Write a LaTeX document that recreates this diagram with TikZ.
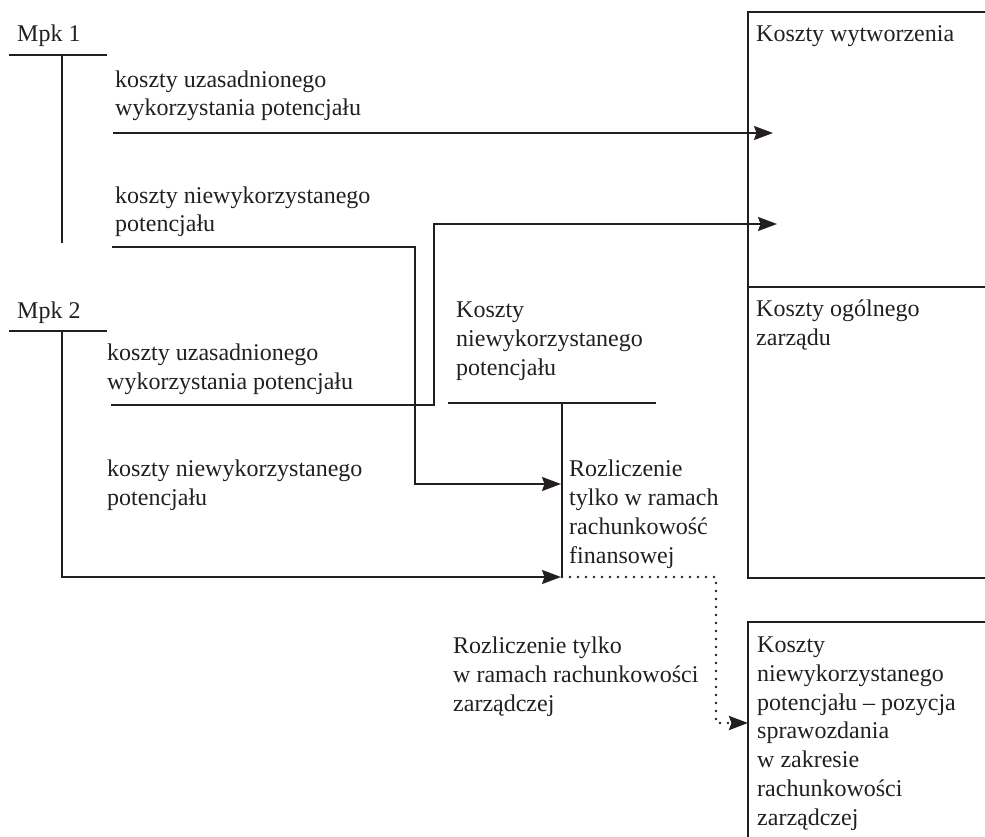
\documentclass[tikz,border=0pt]{standalone}
\usepackage{fontspec}
\setmainfont{Liberation Serif}
\usetikzlibrary{arrows.meta}
\definecolor{ink}{HTML}{231F20}
\begin{document}
\begin{tikzpicture}[x=1pt,y=-1pt,
  txt/.style={anchor=base west, inner sep=0pt, align=left, font=\fontsize{24}{28.7}\selectfont, text=ink},
  tip/.style={-{Stealth[length=19pt,width=14pt,inset=2.5pt]}},
  flow/.style={draw=ink, line width=1.9pt, tip},
  rule/.style={draw=ink, line width=1.4pt},
  dots/.style={draw=ink, line width=2.8pt, dash pattern=on 0pt off 8pt, line cap=round, tip},
  boxline/.style={draw=ink, line width=1.4pt, rectangle, inner sep=0pt, outer sep=0pt, anchor=north west, minimum width=300pt}]
\useasboundingbox (0,0) rectangle (985,837);
\clip (0,0) rectangle (985,837);

% right-hand boxes
\node[boxline, minimum height=275pt] (box1) at (748,12) {};
\node[boxline, minimum height=291pt] (box2) at (748,287) {};
\node[boxline, minimum height=260pt] (box3) at (748,622) {};
% multi-line texts: base anchor = baseline of last line
\node[txt] (box1t) at (756,42) {Koszty wytworzenia};
\node[txt] (box2t) at (756,345) {Koszty ogólnego\\zarządu};
\node[txt] (box3t) at (757,825) {Koszty\\niewykorzystanego\\potencjału – pozycja\\sprawozdania\\w zakresie\\rachunkowości\\zarządczej};

% Mpk 1
\node[txt] (mpk1) at (17,42) {Mpk 1};
\coordinate (m1l) at (9,55);
\coordinate (m1r) at (107,55);
\coordinate (m1top) at (62,55);
\coordinate (m1bot) at (62,243);
\draw[rule] (m1l) -- (m1r);
\draw[rule] (m1top) -- (m1bot);
\node[txt] (t1) at (115,116) {koszty uzasadnionego\\wykorzystania potencjału};
\node[txt] (t2) at (115,232) {koszty niewykorzystanego\\potencjału};

% Mpk 2
\node[txt] (mpk2) at (17,318) {Mpk 2};
\coordinate (m2l) at (9,331);
\coordinate (m2r) at (107,331);
\coordinate (m2top) at (62,331);
\draw[rule] (m2l) -- (m2r);
\node[txt] (t3) at (107,389) {koszty uzasadnionego\\wykorzystania potencjału};
\node[txt] (t4) at (107,505) {koszty niewykorzystanego\\potencjału};

% Koszty niewykorzystanego potencjalu
\node[txt] (kn) at (456,375) {Koszty\\niewykorzystanego\\potencjału};
\coordinate (knl) at (448,403);
\coordinate (knr) at (656,403);
\coordinate (knv) at (562,403);
\coordinate (knb) at (562,577);
\draw[rule] (knl) -- (knr);
\draw[rule] (knv) -- (knb);
\node[txt] (rf) at (569,563) {Rozliczenie\\tylko w ramach\\rachunkowość\\finansowej};
\node[txt] (rz) at (453,711) {Rozliczenie tylko\\w ramach rachunkowości\\zarządczej};

% flows
\coordinate (a1s) at (113,133);
\coordinate (a1e) at (773,133);
\draw[flow] (a1s) -- (a1e);

\coordinate (a2s) at (112,247);
\coordinate (a2b) at (415,484);
\coordinate (a2e) at (561,484);
\draw[flow] (a2s) -| (a2b) -- (a2e);

\coordinate (a3s) at (111,405);
\coordinate (a3b) at (434,224);
\coordinate (a3e) at (777,224);
\draw[flow] (a3s) -| (a3b) -- (a3e);

\coordinate (a4e) at (561,577);
\draw[flow] (m2top) |- (a4e);

\coordinate (d1) at (716,577);
\coordinate (d2) at (716,723);
\coordinate (d3) at (748,723);
\draw[dots] (knb) -- (d1) -- (d2) -- (d3);
\end{tikzpicture}
\end{document}
